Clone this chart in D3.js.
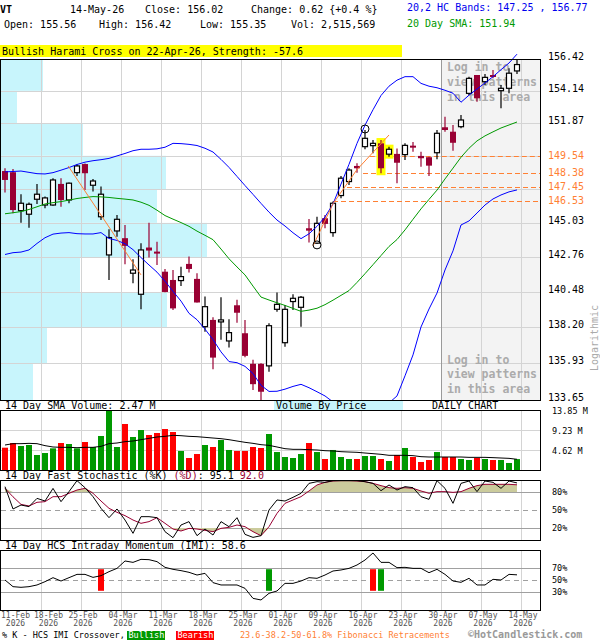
<!DOCTYPE html>
<html>
<head>
<meta charset="utf-8">
<script src="https://cdn.jsdelivr.net/npm/d3@7"></script>
<style>
  html, body { margin: 0; padding: 0; background: #fff; }
  svg { display: block; font-family: "DejaVu Sans Mono", monospace; }
</style>
</head>
<body>
<div id="chart"></div>
<script>
// ---- data (VT daily, 12-Feb .. 14-May-26) ----
const dateLabels = ['11-Feb', '18-Feb', '25-Feb', '04-Mar', '11-Mar', '18-Mar', '25-Mar',
  '01-Apr', '09-Apr', '16-Apr', '23-Apr', '30-Apr', '07-May', '14-May'];
const dateBarIdx = [0, 5, 10, 15, 20, 25, 30, 35, 40, 45, 50, 55, 60, 65];
const yearLabel = '2026';

const opens = [148.54, 148.46, 145.85, 145.61, 146.62, 146.23, 146.23, 147.66, 146.57, 148.43,
  149.02, 147.57, 145.44, 142.90, 144.49, 144.01, 141.70, 140.33, 143.39, 143.12,
  141.80, 141.26, 141.22, 142.31, 141.33, 138.25, 138.68, 138.61, 137.34, 139.62,
  137.83, 135.90, 135.90, 135.77, 139.36, 137.23, 139.86, 139.49, 144.67, 143.68,
  145.34, 144.38, 146.87, 147.82, 148.89, 150.22, 150.29, 150.45, 149.70, 149.72,
  149.67, 150.29, 149.58, 149.49, 149.80, 151.57, 151.26, 151.61, 153.96, 155.27,
  154.79, 155.27, 154.15, 154.32, 155.56];
const highs = [148.73, 148.68, 146.96, 146.40, 147.66, 146.80, 148.05, 148.05, 147.75, 149.00,
  149.05, 148.00, 147.48, 144.60, 145.56, 144.89, 142.62, 143.68, 145.04, 143.78,
  141.98, 141.91, 142.13, 142.79, 141.70, 140.18, 138.85, 140.14, 138.72, 139.97,
  138.68, 136.15, 135.94, 138.46, 140.44, 139.64, 140.33, 140.22, 145.29, 145.44,
  145.56, 146.46, 148.20, 148.73, 149.07, 151.38, 150.68, 150.68, 150.22, 150.10,
  150.45, 150.54, 149.87, 149.53, 151.38, 152.31, 151.73, 152.43, 155.15, 155.27,
  155.34, 155.63, 154.55, 155.75, 156.42];
const lows = [147.07, 145.67, 145.04, 144.71, 146.30, 146.01, 146.18, 146.11, 146.35, 148.20,
  147.25, 147.14, 145.22, 141.26, 144.11, 142.29, 141.05, 139.36, 142.73, 142.24,
  140.46, 139.32, 140.87, 141.74, 139.80, 137.93, 135.56, 137.41, 136.92, 138.50,
  136.31, 134.27, 133.65, 135.41, 139.21, 136.98, 139.32, 138.25, 143.72, 143.63,
  144.67, 144.11, 146.69, 147.59, 148.43, 150.04, 149.76, 148.39, 149.53, 147.71,
  149.30, 149.87, 148.84, 148.20, 149.35, 151.26, 149.94, 151.50, 153.84, 153.37,
  154.55, 155.03, 152.90, 153.96, 155.35];
const closes = [147.93, 145.89, 146.35, 146.28, 146.96, 146.71, 147.93, 146.57, 147.71, 148.89,
  148.39, 147.86, 146.96, 144.05, 145.27, 143.50, 141.91, 143.23, 143.19, 142.99,
  140.48, 139.42, 141.48, 141.98, 139.80, 139.53, 136.29, 138.68, 137.87, 139.14,
  136.40, 134.63, 134.16, 138.31, 139.68, 139.36, 140.07, 140.14, 144.51, 145.00,
  144.96, 146.35, 148.05, 148.61, 148.73, 150.80, 150.45, 148.73, 150.04, 149.11,
  150.31, 150.22, 149.42, 148.91, 151.15, 151.38, 150.49, 152.08, 155.03, 153.61,
  155.10, 155.22, 154.32, 155.40, 156.02];

// HC bands (20,2) and 20 day SMA
const upperBand = [148.48, 148.51, 148.54, 148.45, 148.36, 148.34, 148.43, 148.60, 148.78, 148.99,
  149.15, 149.25, 149.32, 149.41, 149.58, 149.75, 149.94, 150.04, 150.04, 150.07,
  150.18, 150.45, 150.43, 150.38, 150.30, 150.11, 149.85, 149.34, 148.79, 148.17,
  147.55, 146.95, 146.34, 145.75, 145.22, 144.82, 144.37, 143.98, 144.30, 144.80,
  145.43, 146.30, 147.65, 149.00, 150.45, 151.72, 152.80, 153.81, 154.47, 154.90,
  155.15, 155.15, 154.67, 154.47, 154.36, 154.18, 153.97, 153.33, 153.83, 154.27,
  154.70, 155.15, 155.65, 156.13, 156.77];
const lowerBand = [142.93, 143.05, 143.09, 143.23, 143.66, 144.04, 144.28, 144.35, 144.38, 144.31,
  144.29, 144.29, 144.38, 143.99, 143.86, 143.64, 143.25, 142.73, 142.24, 141.77,
  141.18, 140.52, 139.89, 139.10, 138.69, 138.09, 137.43, 136.65, 136.04, 135.97,
  135.74, 135.29, 134.56, 134.18, 134.19, 134.32, 134.49, 134.62, 134.41, 134.16,
  133.90, 133.53, 133.16, 132.91, 132.79, 132.79, 132.91, 133.16, 133.47, 133.90,
  135.15, 136.46, 138.23, 139.38, 140.41, 141.91, 143.17, 144.89, 145.16, 145.69,
  146.23, 146.64, 146.91, 147.12, 147.25];
const sma20 = [145.64, 145.71, 145.79, 145.93, 146.11, 146.30, 146.39, 146.46, 146.56, 146.67,
  146.74, 146.80, 146.78, 146.74, 146.68, 146.63, 146.57, 146.42, 146.21, 145.88,
  145.52, 145.28, 145.05, 144.80, 144.48, 144.20, 143.91, 143.29, 142.65, 142.11,
  141.59, 140.86, 140.15, 139.96, 139.78, 139.61, 139.42, 139.23, 139.31, 139.43,
  139.66, 139.95, 140.26, 140.57, 141.10, 141.67, 142.26, 142.86, 143.46, 143.92,
  144.56, 145.27, 145.97, 146.61, 147.24, 148.00, 148.74, 149.49, 150.11, 150.62,
  150.97, 151.25, 151.52, 151.73, 151.94];

// volume (millions) and its 14 day SMA
const volumes = [5.15, 6.23, 5.54, 5.77, 3.46, 3.92, 5.00, 6.23, 6.00, 5.00,
  6.46, 5.31, 7.85, 13.85, 5.31, 10.62, 7.62, 9.23, 8.08, 8.54,
  9.46, 8.77, 4.39, 2.77, 3.69, 5.77, 5.31, 6.92, 4.62, 4.39,
  4.39, 5.31, 5.08, 8.31, 4.15, 3.00, 2.77, 3.69, 6.23, 4.15,
  2.54, 4.62, 3.00, 2.54, 2.54, 3.23, 3.23, 2.54, 2.08, 3.46,
  5.08, 3.00, 1.85, 2.31, 4.15, 3.00, 3.00, 2.54, 2.31, 2.77,
  2.54, 2.31, 2.31, 1.62, 2.52];
const volumeSma = [5.77, 6.08, 6.08, 6.15, 6.08, 5.62, 5.31, 5.23, 5.23, 5.15,
  5.23, 5.23, 5.46, 6.08, 6.23, 6.54, 6.69, 7.00, 7.31, 7.62,
  7.77, 8.00, 7.92, 7.77, 7.69, 7.54, 7.38, 7.23, 7.00, 6.69,
  6.39, 6.15, 5.85, 5.69, 5.31, 4.92, 4.77, 4.77, 4.69, 4.62,
  4.46, 4.39, 4.23, 4.15, 4.08, 3.92, 3.77, 3.62, 3.39, 3.39,
  3.39, 3.31, 3.08, 3.00, 3.00, 3.00, 3.00, 3.00, 2.92, 2.92,
  2.92, 2.85, 2.77, 2.69, 2.47];

// 14 day fast stochastic and HCS intraday momentum
const stochK = [88.9, 51.7, 58.3, 55.6, 69.4, 65.0, 86.0, 63.9, 80.6, 98.9,
  87.2, 72.2, 52.8, 37.2, 51.7, 33.3, 11.1, 38.9, 38.9, 37.2,
  13.9, 3.9, 25.0, 30.6, 7.2, 18.3, 8.3, 30.6, 22.2, 37.2,
  9.4, 4.4, 7.2, 50.0, 66.7, 65.0, 71.1, 77.8, 94.4, 97.2,
  96.1, 98.9, 98.9, 98.9, 98.9, 97.2, 94.4, 82.2, 91.7, 83.3,
  88.9, 87.2, 72.2, 67.8, 98.9, 86.1, 61.1, 94.4, 98.3, 80.6,
  98.3, 96.1, 86.1, 98.3, 95.1];
const stochD = [86.0, 72.0, 59.4, 56.7, 62.8, 63.9, 72.2, 72.2, 77.8, 83.3,
  86.1, 77.8, 65.0, 52.8, 46.1, 40.6, 33.3, 27.8, 30.6, 37.2,
  27.8, 18.3, 15.0, 19.4, 18.3, 16.1, 13.9, 19.4, 21.1, 25.0,
  22.2, 13.9, 7.2, 22.2, 44.4, 61.1, 66.7, 72.2, 81.7, 91.7,
  96.1, 98.3, 98.9, 98.9, 98.3, 97.2, 94.4, 90.6, 87.2, 86.1,
  87.2, 86.1, 81.7, 77.8, 80.6, 80.6, 79.4, 80.6, 86.1, 90.6,
  92.8, 92.8, 92.8, 92.8, 92.0];
const imi = [50.0, 38.9, 37.8, 38.9, 41.7, 47.2, 53.9, 48.3, 53.9, 59.4,
  59.4, 54.4, 57.2, 63.9, 69.4, 81.7, 79.4, 84.4, 83.9, 80.6,
  71.1, 67.8, 65.6, 62.8, 58.3, 61.1, 45.6, 41.7, 41.7, 41.7,
  36.1, 19.4, 16.7, 27.8, 31.7, 44.4, 44.4, 48.3, 53.9, 52.8,
  58.3, 65.0, 66.7, 69.4, 75.0, 83.3, 95.0, 79.4, 79.4, 70.6,
  71.1, 69.4, 69.4, 62.2, 67.8, 59.4, 48.3, 46.1, 52.8, 41.7,
  41.7, 51.1, 50.0, 59.4, 58.6];
const bullishCross = [33, 47];
const bearishCross = [12, 46];

// price axis
const priceTicks = [133.65, 135.93, 138.20, 140.48, 142.76, 145.03, 147.31, 149.59, 151.87, 154.14, 156.42];
const priceTickLabels = ['133.65', '135.93', '138.20', '140.48', '142.76', '145.03', '', '', '151.87', '154.14', '156.42'];
// volume by price, one value per price band (low to high), millions
const vbpVolume = [9.9, 14.1, 50.1, 24.0, 62.1, 47.1, 49.8, 24.9, 5.1, 12.9];

// fibonacci retracements and trend lines
const fibLevels = [149.54, 148.38, 147.45, 146.53];
const fibFromBar = [45.6, 44.75, 42.75, 41.0];
const trendDown = [{ bar: 7.9, price: 148.89 }, { bar: 17.0, price: 141.59 }];
const trendUp = [{ bar: 38.5, price: 143.50 }, { bar: 41.04, price: 146.35 },
  { bar: 43.96, price: 148.61 }, { bar: 48.0, price: 151.03 }];
const swingLows = [39];
const swingHighs = [45];
const haramiBars = [47, 48];
const lockedFromBar = 55;

const volumeTicks = [4.62, 9.23, 13.85];
const volumeTickLabels = ['4.62 M', '9.23 M', '13.85 M'];
const stochTicks = [20, 50, 80];
const imiTicks = [30, 50, 70];

// ---- layout ----
const W = 600, H = 640;
const LEFT = 1, RIGHT = 540;
const MAIN = { top: 59, bottom: 400 };
const VOL = { top: 410, bottom: 470 };
const STO = { top: 480, bottom: 540 };
const MOM = { top: 550, bottom: 610 };
const GRID = '#d4d4d4';
const MAROON = '#990033';
const ORANGE = '#ff8033';

const svg = d3.select('#chart').append('svg').attr('width', W).attr('height', H);

const x = d3.scaleLinear().domain([0, 65]).range([1, 521]);
const cx = i => x(i + 0.5);
const y = d3.scaleLog().domain([133.65, 156.42]).range([MAIN.bottom, MAIN.top]);
const yVol = d3.scaleLinear().domain([0, 13.85]).range([VOL.bottom, VOL.top]);
const ySto = d3.scaleLinear().domain([0, 100]).range([STO.bottom, STO.top]);
const yMom = d3.scaleLinear().domain([0, 100]).range([MOM.bottom, MOM.top]);
const xVbp = d3.scaleLinear().domain([0, d3.max(vbpVolume)]).range([0, 207]);

svg.append('defs').append('clipPath').attr('id', 'clip-main')
  .append('rect').attr('x', LEFT).attr('y', 40).attr('width', RIGHT - LEFT).attr('height', MAIN.bottom - 40);

// ---- header ----
const head = svg.append('g').style('font-size', '10px');
head.append('text').attr('x', 0).attr('y', 13).style('font-weight', 'bold').text('VT');
head.append('text').attr('x', 70).attr('y', 13).text('14-May-26');
head.append('text').attr('x', 145).attr('y', 13).text(`Close: ${closes[64].toFixed(2)}`);
head.append('text').attr('x', 251).attr('y', 13).text('Change: 0.62 {+0.4 %}');
head.append('text').attr('x', 4).attr('y', 28).text(`Open: ${opens[64].toFixed(2)}`);
head.append('text').attr('x', 99).attr('y', 28).text(`High: ${highs[64].toFixed(2)}`);
head.append('text').attr('x', 200).attr('y', 28).text(`Low: ${lows[64].toFixed(2)}`);
head.append('text').attr('x', 291).attr('y', 28).text('Vol: 2,515,569');
head.append('text').attr('x', 407).attr('y', 11).style('fill', '#0000ee')
  .text(`20,2 HC Bands: ${lowerBand[64].toFixed(2)} , ${upperBand[64].toFixed(2)}`);
head.append('text').attr('x', 407).attr('y', 27).style('fill', '#009900')
  .text(`20 Day SMA: ${sma20[64].toFixed(2)}`);
head.append('rect').attr('x', 0).attr('y', 45).attr('width', 402).attr('height', 12).attr('fill', '#ffff00');
head.append('text').attr('x', 2).attr('y', 55).text('Bullish Harami Cross on 22-Apr-26, Strength: -57.6');

// ---- main price panel ----
const main = svg.append('g');
const plot = main.append('g').attr('clip-path', 'url(#clip-main)');

// volume by price bands
plot.selectAll('rect.vbp').data(vbpVolume).join('rect')
  .attr('class', 'vbp')
  .attr('x', 0)
  .attr('y', (d, k) => y(priceTicks[k + 1]))
  .attr('width', d => xVbp(d))
  .attr('height', (d, k) => y(priceTicks[k]) - y(priceTicks[k + 1]))
  .attr('fill', '#c8f5fc');

// locked area
plot.append('rect').attr('x', x(lockedFromBar)).attr('y', MAIN.top)
  .attr('width', RIGHT - x(lockedFromBar)).attr('height', MAIN.bottom - MAIN.top)
  .attr('fill', '#f3f3f3');

// grid
plot.selectAll('line.hgrid').data(priceTicks.slice(1, -1)).join('line')
  .attr('x1', LEFT).attr('x2', RIGHT)
  .attr('y1', d => Math.round(y(d)) + 0.5).attr('y2', d => Math.round(y(d)) + 0.5)
  .attr('stroke', GRID);
function vGrid(g, top, bottom) {
  g.selectAll(null).data(dateBarIdx.slice(1)).join('line')
    .attr('x1', d => x(d) + 0.5).attr('x2', d => x(d) + 0.5)
    .attr('y1', top).attr('y2', bottom)
    .attr('stroke', GRID);
}
vGrid(plot, MAIN.top, MAIN.bottom);
plot.append('line').attr('x1', x(lockedFromBar) + 0.5).attr('x2', x(lockedFromBar) + 0.5)
  .attr('y1', MAIN.top).attr('y2', MAIN.bottom).attr('stroke', '#9a9a9a');

// login notices
const lockText = plot.append('g').style('font-size', '11.5px').style('font-weight', 'bold').style('fill', '#ababab');
[['Log in to', 71], ['view patterns', 86], ['in this area', 100.5],
 ['Log in to', 363.5], ['view patterns', 378], ['in this area', 392.5]].forEach(([t, ty]) => {
  lockText.append('text').attr('x', x(lockedFromBar) + 6).attr('y', ty).text(t);
});

// fibonacci retracement levels
plot.selectAll('line.fib').data(fibLevels).join('line')
  .attr('x1', (d, k) => cx(fibFromBar[k])).attr('x2', RIGHT)
  .attr('y1', d => Math.round(y(d)) + 0.5).attr('y2', d => Math.round(y(d)) + 0.5)
  .attr('stroke', ORANGE).attr('stroke-dasharray', '5,3');

// harami highlight
plot.selectAll('rect.harami').data(haramiBars).join('rect')
  .attr('x', i => cx(i) - 4.5).attr('width', 9)
  .attr('y', i => y(highs[i]) - 2).attr('height', i => y(lows[i]) - y(highs[i]) + 4)
  .attr('fill', '#ffff00');

// candles
const idx = d3.range(closes.length);
const candles = plot.append('g');
candles.selectAll('line').data(idx).join('line')
  .attr('x1', i => cx(i)).attr('x2', i => cx(i))
  .attr('y1', i => y(highs[i])).attr('y2', i => y(lows[i]))
  .attr('stroke', i => closes[i] >= opens[i] ? '#000' : MAROON)
  .attr('stroke-width', 1.2);
candles.selectAll('rect').data(idx).join('rect')
  .attr('x', i => closes[i] >= opens[i] ? cx(i) - 2.5 : cx(i) - 3)
  .attr('width', i => closes[i] >= opens[i] ? 5 : 6)
  .attr('y', i => y(Math.max(opens[i], closes[i])))
  .attr('height', i => Math.max(2, y(Math.min(opens[i], closes[i])) - y(Math.max(opens[i], closes[i]))))
  .attr('fill', i => closes[i] >= opens[i] ? '#fff' : MAROON)
  .attr('stroke', i => closes[i] >= opens[i] ? '#000' : 'none')
  .attr('stroke-width', 1.2);

// bands and sma
const priceLine = d3.line().x((d, i) => cx(i)).y(d => y(d));
plot.append('path').datum(upperBand).attr('d', priceLine).attr('fill', 'none').attr('stroke', '#0000ff');
plot.append('path').datum(lowerBand).attr('d', priceLine).attr('fill', 'none').attr('stroke', '#0000ff');
plot.append('path').datum(sma20).attr('d', priceLine).attr('fill', 'none').attr('stroke', '#009900');

// trend lines
const trend = d3.line().x(d => cx(d.bar)).y(d => y(d.price));
[trendDown, trendUp].forEach(t => {
  plot.append('path').datum(t).attr('d', trend).attr('fill', 'none').attr('stroke', ORANGE);
});

// swing markers
plot.selectAll('circle.low').data(swingLows).join('circle')
  .attr('cx', i => cx(i)).attr('cy', i => y(lows[i]) + 1).attr('r', 4)
  .attr('fill', 'none').attr('stroke', '#000');
plot.selectAll('circle.high').data(swingHighs).join('circle')
  .attr('cx', i => cx(i)).attr('cy', i => y(highs[i]) - 1).attr('r', 4)
  .attr('fill', 'none').attr('stroke', '#000');

main.append('rect').attr('x', 0.5).attr('y', MAIN.top + 0.5)
  .attr('width', RIGHT).attr('height', MAIN.bottom - MAIN.top)
  .attr('fill', 'none').attr('stroke', '#000');

// price labels
main.selectAll('text.tick').data(priceTicks).join('text')
  .attr('x', 548).attr('y', d => y(d) + 1)
  .style('font-size', '10px')
  .text((d, k) => priceTickLabels[k]);
main.selectAll('text.fib').data(fibLevels).join('text')
  .attr('x', 548).attr('y', d => y(d) + 3)
  .style('font-size', '10px').style('fill', ORANGE)
  .text(d => d.toFixed(2));
main.append('text').attr('transform', 'translate(598,338) rotate(-90)')
  .attr('text-anchor', 'middle').style('font-size', '10px').style('fill', '#aaa')
  .text('Logarithmic');

// ---- captions between panels ----
const cap = svg.append('g').style('font-size', '10px');
cap.append('text').attr('x', 5).attr('y', 408.5).text(`14 Day SMA Volume: ${volumeSma[64].toFixed(2)} M`);
cap.append('rect').attr('x', 274).attr('y', 401).attr('width', 129).attr('height', 9).attr('fill', '#c8f5fc');
cap.append('text').attr('x', 276).attr('y', 408.5).text('Volume By Price');
cap.append('text').attr('x', 432).attr('y', 408.5).text('DAILY CHART');
const stoCap = cap.append('text').attr('x', 5).attr('y', 478.5);
stoCap.append('tspan').text('14 Day Fast Stochastic (%K) ');
stoCap.append('tspan').style('fill', MAROON).text('(%D)');
stoCap.append('tspan').text(`: ${stochK[64].toFixed(1)}  `);
stoCap.append('tspan').style('fill', MAROON).text(stochD[64].toFixed(1));
cap.append('text').attr('x', 5).attr('y', 548.5).text(`14 Day HCS Intraday Momentum (IMI): ${imi[64].toFixed(1)}`);

// ---- volume panel ----
const vol = svg.append('g');
vol.selectAll('line.vg').data(volumeTicks.slice(0, 2)).join('line')
  .attr('x1', LEFT).attr('x2', RIGHT)
  .attr('y1', d => Math.round(yVol(d)) + 0.5).attr('y2', d => Math.round(yVol(d)) + 0.5)
  .attr('stroke', GRID);
vGrid(vol, VOL.top, VOL.bottom);
vol.selectAll('rect.bar').data(volumes).join('rect')
  .attr('x', (d, i) => cx(i) - 3).attr('width', 6)
  .attr('y', d => yVol(d)).attr('height', d => VOL.bottom - yVol(d))
  .attr('fill', (d, i) => closes[i] >= opens[i] ? '#009900' : '#ff0000');
vol.append('path').datum(volumeSma)
  .attr('d', d3.line().x((d, i) => cx(i)).y(d => yVol(d)))
  .attr('fill', 'none').attr('stroke', '#000');
vol.append('rect').attr('x', 0.5).attr('y', VOL.top + 0.5).attr('width', RIGHT).attr('height', VOL.bottom - VOL.top)
  .attr('fill', 'none').attr('stroke', '#000');
vol.selectAll('text').data(volumeTicks).join('text')
  .attr('x', 552).attr('y', d => yVol(d) + 4)
  .style('font-size', '8.5px')
  .text((d, k) => volumeTickLabels[k]);

// ---- oscillator panels ----
function oscPanel(box, ys, ticks) {
  const g = svg.append('g');
  vGrid(g, box.top, box.bottom);
  g.selectAll('line.lvl').data(ticks).join('line')
    .attr('x1', LEFT).attr('x2', RIGHT)
    .attr('y1', d => Math.round(ys(d)) + 0.5).attr('y2', d => Math.round(ys(d)) + 0.5)
    .attr('stroke', '#a0a0a0')
    .attr('stroke-dasharray', d => d === 50 ? '5,4' : null);
  g.selectAll('text').data(ticks).join('text')
    .attr('x', 552).attr('y', d => ys(d) + 3)
    .style('font-size', '8.5px')
    .text(d => `${d}%`);
  return g;
}

const sto = oscPanel(STO, ySto, stochTicks);
const overbought = d3.area().x((d, i) => cx(i)).y0(ySto(80)).y1(d => ySto(Math.max(d, 80)));
const oversold = d3.area().x((d, i) => cx(i)).y0(ySto(20)).y1(d => ySto(Math.min(d, 20)));
sto.append('path').datum(stochD).attr('d', overbought).attr('fill', '#cbcb9c');
sto.append('path').datum(stochD).attr('d', oversold).attr('fill', '#cbcb9c');
const oscLine = d3.line().x((d, i) => cx(i)).y(d => ySto(d));
sto.append('path').datum(stochD).attr('d', oscLine).attr('fill', 'none').attr('stroke', MAROON);
sto.append('path').datum(stochK).attr('d', oscLine).attr('fill', 'none').attr('stroke', '#000');
sto.append('rect').attr('x', 0.5).attr('y', STO.top + 0.5).attr('width', RIGHT).attr('height', STO.bottom - STO.top)
  .attr('fill', 'none').attr('stroke', '#000');

const mom = oscPanel(MOM, yMom, imiTicks);
[[bullishCross, '#009900'], [bearishCross, '#ff0000']].forEach(([bars, colour]) => {
  mom.selectAll(null).data(bars).join('rect')
    .attr('x', i => cx(i) - 3).attr('width', 6)
    .attr('y', yMom(68)).attr('height', yMom(32) - yMom(68))
    .attr('fill', colour);
});
mom.append('path').datum(imi)
  .attr('d', d3.line().x((d, i) => cx(i)).y(d => yMom(d)))
  .attr('fill', 'none').attr('stroke', '#000');
mom.append('rect').attr('x', 0.5).attr('y', MOM.top + 0.5).attr('width', RIGHT).attr('height', MOM.bottom - MOM.top)
  .attr('fill', 'none').attr('stroke', '#000');

// ---- date axis ----
const dates = svg.append('g').style('font-size', '8px').style('fill', '#555').attr('text-anchor', 'middle');
const halfW = 14.5;
let prevRight = -Infinity;
dateLabels.forEach((lab, k) => {
  let c = Math.max(x(dateBarIdx[k]) + 2, LEFT + halfW, prevRight + 4 + halfW);
  prevRight = c + halfW;
  dates.append('text').attr('x', c).attr('y', 617.5).text(lab);
  dates.append('text').attr('x', c).attr('y', 625.5).text(yearLabel);
});

// ---- footer ----
const foot = svg.append('g').style('font-size', '8.5px');
foot.append('text').attr('x', 2).attr('y', 638).text('% K - HCS IMI Crossover,');
foot.append('rect').attr('x', 127).attr('y', 631).attr('width', 38).attr('height', 9).attr('fill', '#009900');
foot.append('text').attr('x', 128.5).attr('y', 638).style('fill', '#fff').text('Bullish');
foot.append('rect').attr('x', 176).attr('y', 631).attr('width', 38).attr('height', 9).attr('fill', '#ff0000');
foot.append('text').attr('x', 177.5).attr('y', 638).style('fill', '#fff').text('Bearish');
foot.append('text').attr('x', 240).attr('y', 638).style('fill', ORANGE).text('23.6-38.2-50-61.8% Fibonacci Retracements');
foot.append('text').attr('x', 468).attr('y', 637.5).style('font-size', '10px').style('font-weight', 'bold')
  .style('fill', '#999').text('\u00A9HotCandlestick.com');
</script>
</body>
</html>
